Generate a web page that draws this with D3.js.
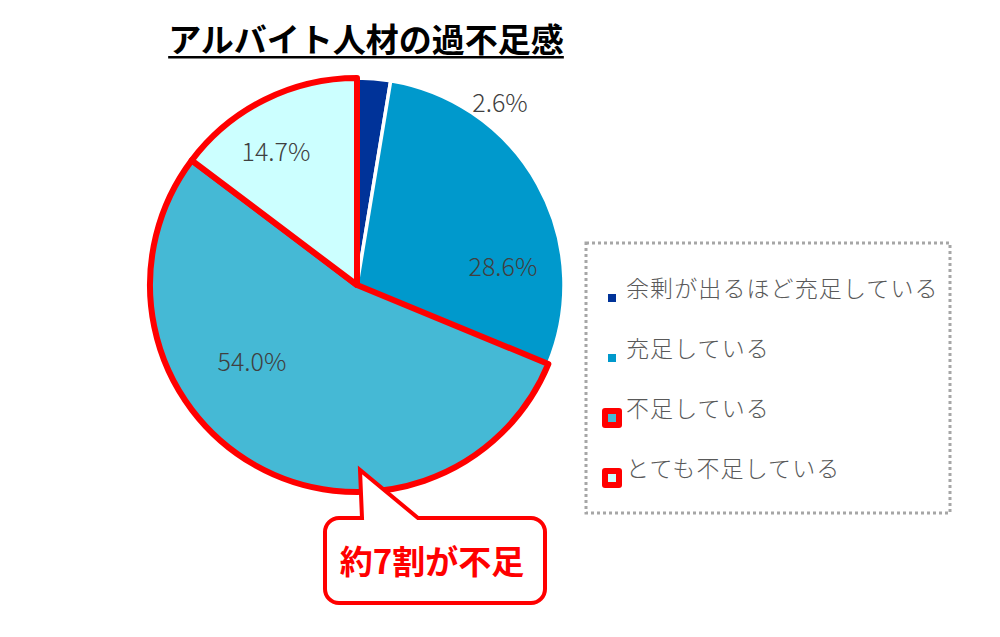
<!DOCTYPE html>
<html>
<head>
<meta charset="utf-8">
<script src="https://cdn.jsdelivr.net/npm/d3@7/dist/d3.min.js"></script>
<style>
  body { margin: 0; background: #fff; }
  svg { display: block; font-family: "Noto Sans CJK JP", "Noto Sans", sans-serif; }
</style>
</head>
<body>
<div id="chart"></div>
<script>
  "use strict";

  // data
  var categories = ["余剰が出るほど充足している", "充足している", "不足している", "とても不足している"];
  var values = [2.6, 28.6, 54.0, 14.7];
  var valueLabels = ["2.6%", "28.6%", "54.0%", "14.7%"];
  var shortage = [false, false, true, true];
  var colors = ["#003399", "#0099CC", "#45B9D5", "#CCFFFF"];
  var titleText = "アルバイト人材の過不足感";
  var calloutText = "約7割が不足";

  var width = 1000,
    height = 637,
    cx = 357,
    cy = 285,
    radius = 207;

  // label offsets from the pie centre (as placed in the original)
  var labelOffsets = [[143, -184], [146, -20], [-105, 75], [-81, -135]];

  var svg = d3.select("#chart")
    .append("svg")
    .attr("width", width)
    .attr("height", height);

  // title
  var title = svg.append("text")
    .attr("x", 366)
    .attr("y", 52)
    .attr("text-anchor", "middle")
    .attr("font-size", 33)
    .attr("font-weight", 700)
    .attr("fill", "#000")
    .text(titleText);
  var tb = title.node().getBBox();
  svg.append("rect")
    .attr("x", tb.x)
    .attr("y", 56)
    .attr("width", tb.width)
    .attr("height", 2.5)
    .attr("fill", "#000");

  // pie
  var pie = d3.pie().sort(null).value(function(d) { return d; });
  var arc = d3.arc().innerRadius(0).outerRadius(radius);
  var arcs = pie(values);

  var g = svg.append("g")
    .attr("transform", "translate(" + cx + "," + cy + ")");

  // normal slices first, shortage slices on top with red outline
  var order = arcs.map(function(d, i) { return i; })
    .sort(function(a, b) { return (shortage[a] ? 1 : 0) - (shortage[b] ? 1 : 0); });

  g.selectAll("path")
    .data(order)
    .enter()
    .append("path")
    .attr("d", function(i) { return arc(arcs[i]); })
    .attr("fill", function(i) { return colors[i]; })
    .attr("stroke", function(i) { return shortage[i] ? "#FF0000" : "#fff"; })
    .attr("stroke-width", function(i) { return shortage[i] ? 6 : 3.5; })
    .attr("stroke-linejoin", "round");

  // value labels
  g.selectAll("text.val")
    .data(arcs)
    .enter()
    .append("text")
    .attr("class", "val")
    .attr("x", function(d, i) { return labelOffsets[i][0]; })
    .attr("y", function(d, i) { return labelOffsets[i][1]; })
    .attr("text-anchor", "middle")
    .attr("dominant-baseline", "central")
    .attr("font-size", 25)
    .attr("font-weight", 300)
    .attr("fill", "#404040")
    .text(function(d, i) { return valueLabels[i]; });

  // legend
  var legend = svg.append("g");
  legend.append("rect")
    .attr("x", 586)
    .attr("y", 243)
    .attr("width", 364)
    .attr("height", 270)
    .attr("fill", "none")
    .attr("stroke", "#A6A6A6")
    .attr("stroke-width", 3)
    .attr("stroke-dasharray", "3 3");

  var ly = d3.scalePoint().domain(categories).range([290, 470]);

  var item = legend.selectAll("g.item")
    .data(categories)
    .enter()
    .append("g")
    .attr("class", "item")
    .attr("transform", function(d) { return "translate(0," + ly(d) + ")"; });

  item.filter(function(d, i) { return shortage[i]; })
    .append("rect")
    .attr("x", 602)
    .attr("y", -2)
    .attr("width", 20)
    .attr("height", 20)
    .attr("rx", 3)
    .attr("fill", "#FF0000");

  item.append("rect")
    .attr("x", 608)
    .attr("y", 4)
    .attr("width", 8)
    .attr("height", 8)
    .attr("fill", function(d, i) { return colors[i]; });

  item.append("text")
    .attr("x", 626)
    .attr("y", -3)
    .attr("dominant-baseline", "central")
    .attr("font-size", 23)
    .attr("font-weight", 300)
    .attr("letter-spacing", 1.1)
    .attr("fill", "#595959")
    .text(function(d) { return d; });

  // callout
  var bx = 325, by = 518, bw = 220, bh = 85, r = 14;
  var tipX = 360, tipY = 470, baseL = 362, baseR = 418;
  var p = d3.path();
  p.moveTo(bx + r, by);
  p.lineTo(baseL, by);
  p.lineTo(tipX, tipY);
  p.lineTo(baseR, by);
  p.lineTo(bx + bw - r, by);
  p.arcTo(bx + bw, by, bx + bw, by + r, r);
  p.lineTo(bx + bw, by + bh - r);
  p.arcTo(bx + bw, by + bh, bx + bw - r, by + bh, r);
  p.lineTo(bx + r, by + bh);
  p.arcTo(bx, by + bh, bx, by + bh - r, r);
  p.lineTo(bx, by + r);
  p.arcTo(bx, by, bx + r, by, r);
  p.closePath();

  svg.append("path")
    .attr("d", p.toString())
    .attr("fill", "#fff")
    .attr("stroke", "#FF0000")
    .attr("stroke-width", 4)
    .attr("stroke-linejoin", "miter");

  svg.append("text")
    .attr("x", 432)
    .attr("y", 560)
    .attr("text-anchor", "middle")
    .attr("dominant-baseline", "central")
    .attr("font-size", 33)
    .attr("font-weight", 700)
    .attr("fill", "#FF0000")
    .text(calloutText);
</script>
</body>
</html>
